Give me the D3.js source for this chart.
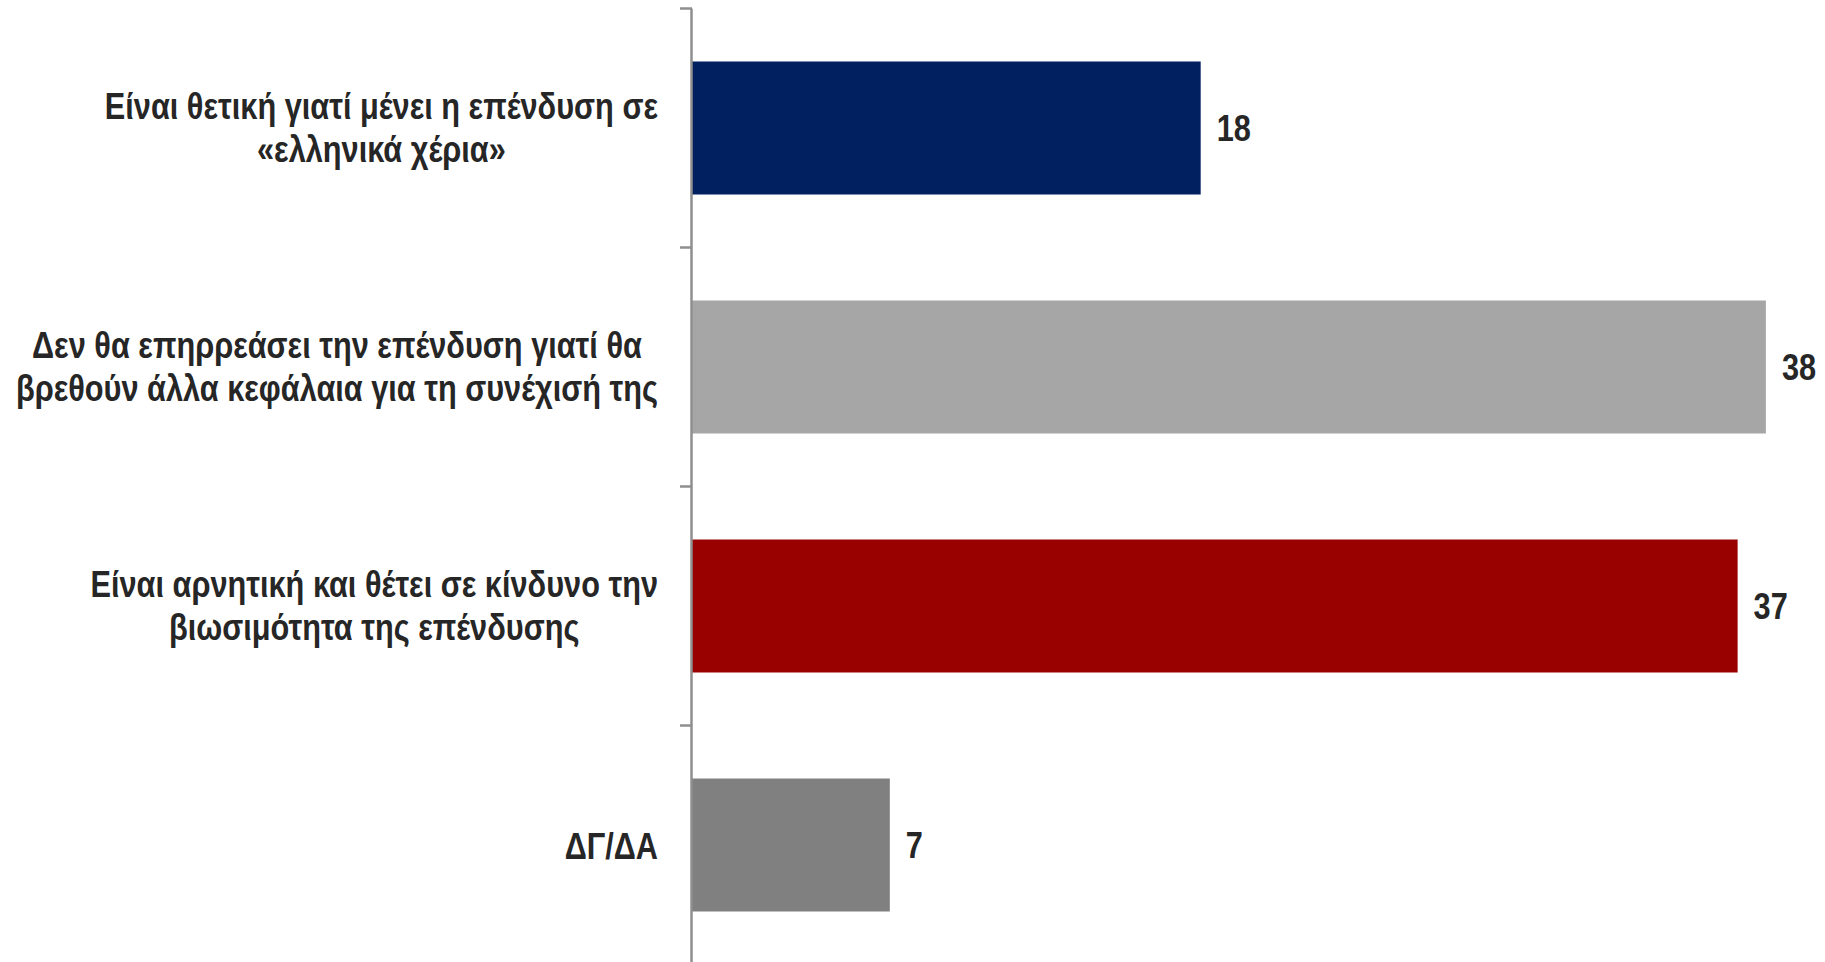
<!DOCTYPE html>
<html>
<head>
<meta charset="utf-8">
<script src="https://cdn.jsdelivr.net/npm/d3@7"></script>
<style>
  html, body { margin: 0; padding: 0; background: #fff; }
  svg { display: block; }
  .lbl { font-family: "Liberation Sans Narrow", "Arial Narrow", "Liberation Sans", Arial, sans-serif; font-weight: bold; fill: #262626; }
</style>
</head>
<body>
<svg id="chart" width="1825" height="962"></svg>
<script>
const categories = [
  ["Είναι θετική γιατί μένει η επένδυση σε", "«ελληνικά χέρια»"],
  ["Δεν θα επηρρεάσει την επένδυση γιατί θα", "βρεθούν άλλα κεφάλαια για τη συνέχισή της"],
  ["Είναι αρνητική και θέτει σε κίνδυνο την", "βιωσιμότητα της επένδυσης"],
  ["ΔΓ/ΔΑ"]
];
const values = [18, 38, 37, 7];
const colors = ["#002060", "#A6A6A6", "#990000", "#808080"];

const svg = d3.select("#chart");
const keys = categories.map((c, i) => i);
const SX = 0.83;       // horizontal condensing to mimic a narrow face
const FS = 37;

const axisX = 692;
const x = d3.scaleLinear().domain([0, 40]).range([axisX, axisX + 40 * 28.26]);

const yOuter = d3.scaleBand().domain(keys).range([8.5, 964.5]).padding(0);
const y = d3.scaleBand().domain(keys).range([8.5, 964.5]).paddingInner(0.4435).paddingOuter(0.22175);

// bars
svg.selectAll("rect.bar").data(keys).join("rect")
  .attr("class", "bar")
  .attr("x", x(0))
  .attr("y", d => y(d))
  .attr("width", d => x(values[d]) - x(0))
  .attr("height", y.bandwidth())
  .attr("fill", d => colors[d]);

// axis line
svg.append("line")
  .attr("x1", axisX - 0.5).attr("x2", axisX - 0.5)
  .attr("y1", yOuter.range()[0]).attr("y2", yOuter.range()[1])
  .attr("stroke", "#8F8F8F").attr("stroke-width", 2.5);

// ticks at band boundaries
svg.selectAll("line.tick").data(keys).join("line")
  .attr("class", "tick")
  .attr("x1", axisX - 12).attr("x2", axisX)
  .attr("y1", d => yOuter(d)).attr("y2", d => yOuter(d))
  .attr("stroke", "#8F8F8F").attr("stroke-width", 2.5);

// value labels
svg.selectAll("text.val").data(keys).join("text")
  .attr("class", "lbl val")
  .attr("transform", d => `translate(${x(values[d]) + 16},${y(d) + y.bandwidth() / 2 + 13}) scale(${SX},1)`)
  .attr("font-size", FS)
  .text(d => values[d]);

// category labels (block centered, widest line right-aligned at 658)
const rightEdge = 658;
const lineH = 42.5;
keys.forEach(d => {
  const lines = categories[d];
  const cy = y(d) + y.bandwidth() / 2;
  const g = svg.append("g");
  const texts = lines.map((ln, i) => g.append("text")
    .attr("class", "lbl cat")
    .attr("font-size", FS)
    .attr("text-anchor", "middle")
    .text(ln));
  const maxW = d3.max(texts, t => t.node().getComputedTextLength()) * SX;
  const cx = rightEdge - maxW / 2;
  texts.forEach((t, i) => {
    const by = cy + (lines.length === 1 ? 14 : 12.5) + (i - (lines.length - 1) / 2) * lineH;
    t.attr("transform", `translate(${cx},${by}) scale(${SX},1)`);
  });
});
</script>
</body>
</html>
